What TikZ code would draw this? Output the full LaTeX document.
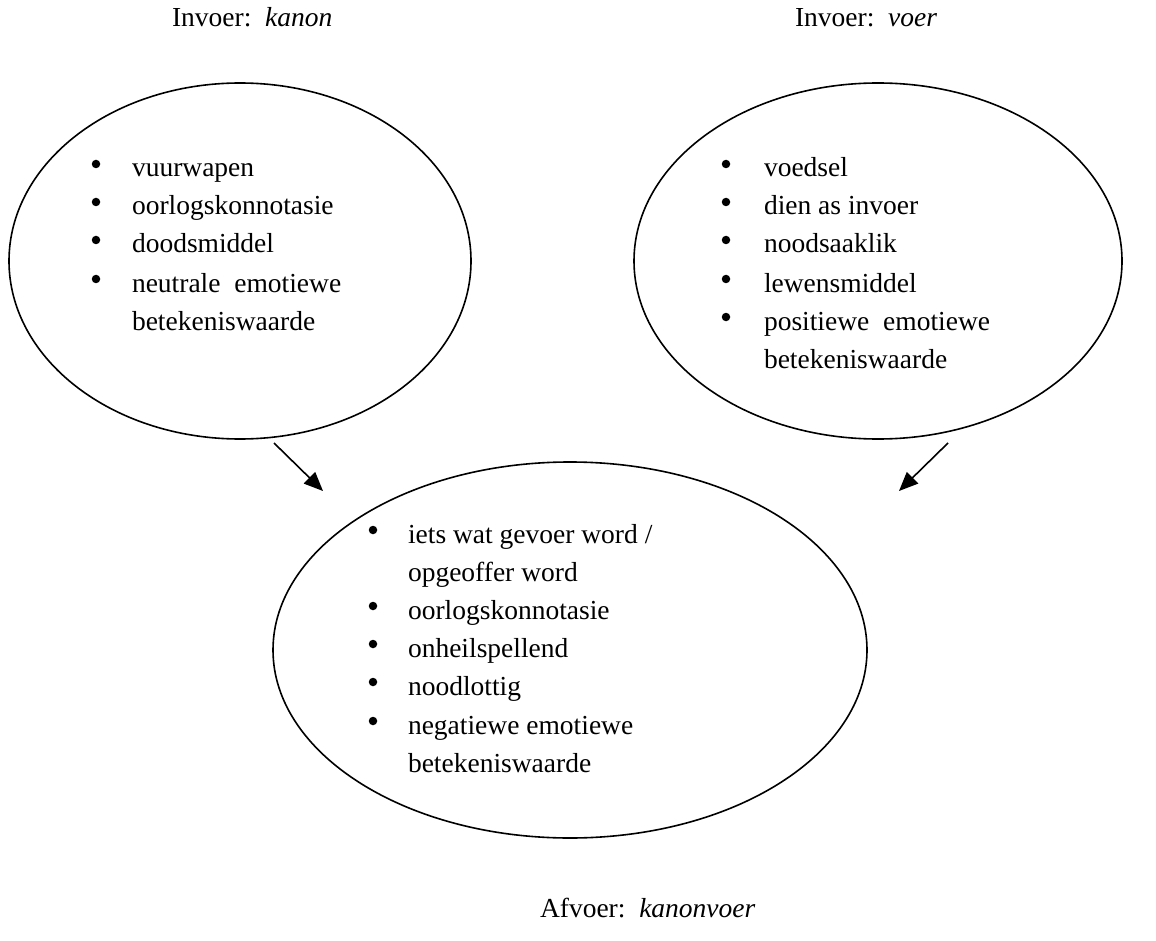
\documentclass[tikz,border=0pt]{standalone}
\usepackage{fontspec}
\setmainfont{Liberation Serif}
\usetikzlibrary{arrows.meta,shapes.geometric}
\begin{document}
\begin{tikzpicture}[x=1pt,y=-1pt,
  every node/.style={inner sep=0pt,outer sep=0pt},
  txt/.style={anchor=base west,font=\fontsize{27.5}{38}\selectfont},
  dot/.style={circle,fill=black,minimum size=8.5pt},
  bubble/.style={ellipse,draw,line width=1.6pt},
  link/.style={line width=1.6pt,-{Triangle[length=19pt,width=16pt]}}]
\useasboundingbox (0,0) rectangle (1156,941);

% titles
\node[txt] (tkanon) at (172,27) {Invoer:\ \ \textit{kanon}};
\node[txt] (tvoer) at (795,27) {Invoer:\ \ \textit{voer}};
\node[txt] (tafvoer) at (540,917) {Afvoer:\ \ \textit{kanonvoer}};

% the three bubbles
\node[bubble,minimum width=462pt,minimum height=356pt] (kanon) at (240,261) {};
\node[bubble,minimum width=488pt,minimum height=356pt] (voer) at (878,261) {};
\node[bubble,minimum width=594pt,minimum height=376pt] (kanonvoer) at (570,650) {};

% left list
\node[dot] (k1) at (96,164) {};
\node[txt] (kt1) at (132,177) {vuurwapen};
\node[dot] (k2) at (96,202) {};
\node[txt] (kt2) at (132,215) {oorlogskonnotasie};
\node[dot] (k3) at (96,240) {};
\node[txt] (kt3) at (132,253) {doodsmiddel};
\node[dot] (k4) at (96,279) {};
\node[txt] (kt4) at (132,292) {neutrale\ \ emotiewe};
\node[txt] (kt5) at (132,330) {betekeniswaarde};

% right list
\node[dot] (v1) at (726,164) {};
\node[txt] (vt1) at (764,177) {voedsel};
\node[dot] (v2) at (726,202) {};
\node[txt] (vt2) at (764,215) {dien as invoer};
\node[dot] (v3) at (726,240) {};
\node[txt] (vt3) at (764,253) {noodsaaklik};
\node[dot] (v4) at (726,279) {};
\node[txt] (vt4) at (764,292) {lewensmiddel};
\node[dot] (v5) at (726,317) {};
\node[txt] (vt5) at (764,330) {positiewe\ \ emotiewe};
\node[txt] (vt6) at (764,368) {betekeniswaarde};

% bottom list
\node[dot] (b1) at (373,530) {};
\node[txt] (bt1) at (408,543) {iets wat gevoer word /};
\node[txt] (bt2) at (408,581) {opgeoffer word};
\node[dot] (b3) at (373,606) {};
\node[txt] (bt3) at (408,619) {oorlogskonnotasie};
\node[dot] (b4) at (373,644) {};
\node[txt] (bt4) at (408,657) {onheilspellend};
\node[dot] (b5) at (373,682) {};
\node[txt] (bt5) at (408,695) {noodlottig};
\node[dot] (b6) at (373,721) {};
\node[txt] (bt6) at (408,734) {negatiewe emotiewe};
\node[txt] (bt7) at (408,772) {betekeniswaarde};

% arrows
\coordinate (la) at (274,443);
\coordinate (lb) at (323,491);
\coordinate (ra) at (948,443);
\coordinate (rb) at (899,491);
\draw[link] (la) -- (lb);
\draw[link] (ra) -- (rb);
\end{tikzpicture}
\end{document}
